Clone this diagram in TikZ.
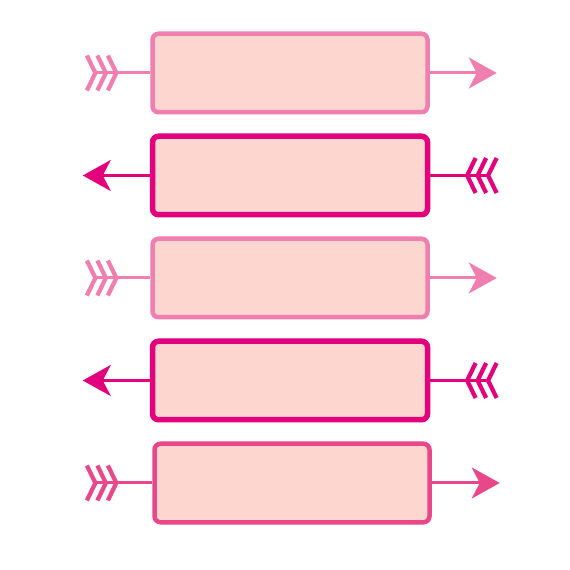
\documentclass[tikz,border=0pt]{standalone}
\usetikzlibrary{positioning,arrows.meta}
\definecolor{softpink}{HTML}{F07FB0}
\definecolor{deepmagenta}{HTML}{E2007C}
\definecolor{rosepink}{HTML}{E8478A}
\definecolor{boxfill}{HTML}{FDD6D0}
\tikzset{
	fletch/.tip={Straight Barb[reversed,length=0.17cm,width=0.7cm,line width=0.085cm,sep=-0.05cm]},
	feathers/.tip={fletch[]fletch[]fletch[]},
	head/.tip={Stealth[length=0.56cm,width=0.62cm,inset=0.16cm]},
	block/.style={draw,fill=boxfill,rounded corners=0.12cm,minimum width=5.5cm,minimum height=1.57cm,line width=0.09cm},
	heavyblock/.style={block,line width=0.11cm},
	shaft/.style={line width=0.06cm}
}
\begin{document}
\begin{tikzpicture}[node distance=2.05cm]
			\useasboundingbox (0,0) rectangle (11.4,11.4);
			\node(row1)	[block,draw=softpink] at (5.8,9.94)		{};
			\node(row2)	[heavyblock,draw=deepmagenta,below of=row1]	{};
			\node(row3)	[block,draw=softpink,below of=row2]		{};
			\node(row4)	[heavyblock,draw=deepmagenta,below of=row3]	{};
			\node(row5)	[block,draw=rosepink,below of=row4,xshift=0.04cm]	{};
			\coordinate[left=1.26cm of row1.west] (in1);
			\coordinate[right=1.34cm of row1.east] (out1);
			\coordinate[right=1.32cm of row2.east] (in2);
			\coordinate[left=1.34cm of row2.west] (out2);
			\coordinate[left=1.26cm of row3.west] (in3);
			\coordinate[right=1.34cm of row3.east] (out3);
			\coordinate[right=1.32cm of row4.east] (in4);
			\coordinate[left=1.34cm of row4.west] (out4);
			\coordinate[left=1.3cm of row5.west] (in5);
			\coordinate[right=1.36cm of row5.east] (out5);
			\draw[shaft,softpink,feathers-](in1)      -- (row1.west);
			\draw[shaft,softpink,-head](row1.east)      -- (out1);
			\draw[shaft,deepmagenta,feathers-](in2)      -- (row2.east);
			\draw[shaft,deepmagenta,-head](row2.west)      -- (out2);
			\draw[shaft,softpink,feathers-](in3)      -- (row3.west);
			\draw[shaft,softpink,-head](row3.east)      -- (out3);
			\draw[shaft,deepmagenta,feathers-](in4)      -- (row4.east);
			\draw[shaft,deepmagenta,-head](row4.west)      -- (out4);
			\draw[shaft,rosepink,feathers-](in5)      -- (row5.west);
			\draw[shaft,rosepink,-head](row5.east)      -- (out5);
		\end{tikzpicture}
\end{document}
